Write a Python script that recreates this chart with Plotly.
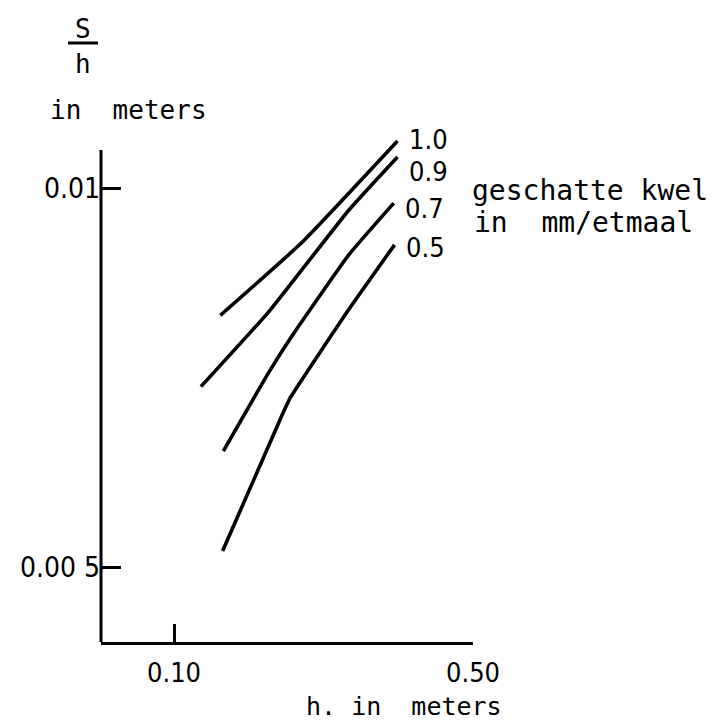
import plotly.graph_objects as go

# h (m) and S/h (m) for each estimated seepage rate (mm/etmaal)
kwel_labels = ["1.0", "0.9", "0.7", "0.5"]
h_10 = [0.162, 0.271, 0.399]
sh_10 = [0.00832, 0.00928, 0.01062]
h_09 = [0.136, 0.227, 0.334, 0.399]
sh_09 = [0.00738, 0.00837, 0.00971, 0.01041]
h_07 = [0.166, 0.227, 0.258, 0.334, 0.394]
sh_07 = [0.00653, 0.00757, 0.00805, 0.00912, 0.00980]
h_05 = [0.165, 0.243, 0.256, 0.334, 0.395]
sh_05 = [0.00521, 0.00697, 0.00724, 0.00840, 0.00925]

x_ticks = [0.10, 0.50]
x_ticktext = ["0.10", "0.50"]
y_ticks = [0.005, 0.01]
y_ticktext = ["0.00 5", "0.01"]

W, H = 716, 724
L, R, T, B = 101, 473, 120, 642   # plot area in pixels
AXIS_TOP = 150                    # visible top of the vertical axis line

series = [(h_10, sh_10), (h_09, sh_09), (h_07, sh_07), (h_05, sh_05)]
label_yshift = [2, -15, -5, -3]

NARROW = "Liberation Sans Narrow, DejaVu Sans Condensed, sans-serif"
MONO = "DejaVu Sans Mono, monospace"

# axis scales: 0.10 at x=174 px, 0.50 at x=473 px; 0.01 at y=188 px, 0.005 at y=567 px
x_per_px = 0.40 / (473 - 174)
y_per_px = 0.005 / (567 - 188)
x_range = [0.10 - (174 - L) * x_per_px, 0.50 + (R - 473) * x_per_px]
y_range = [0.01 - (B - 188) * y_per_px, 0.01 + (188 - T) * y_per_px]


def px(x):
    return (x - L) / (R - L)


def py(y):
    return (B - y) / (B - T)


fig = go.Figure()
for (hx, sy) in series:
    fig.add_trace(go.Scatter(
        x=hx, y=sy, mode="lines",
        line=dict(color="black", width=3.6, shape="spline", smoothing=0.4),
        cliponaxis=False, showlegend=False, hoverinfo="skip"))

annotations = []
for lab, (hx, sy), dy in zip(kwel_labels, series, label_yshift):
    annotations.append(dict(
        x=hx[-1], y=sy[-1], xref="x", yref="y", text=lab, showarrow=False,
        xanchor="left", yanchor="middle", xshift=9, yshift=dy,
        font=dict(family=NARROW, size=27, color="black")))

annotations += [
    dict(x=px(470), y=py(190), xref="paper", yref="paper",
         text="geschatte\u00a0kwel", showarrow=False, xanchor="left",
         yanchor="middle", font=dict(family=MONO, size=28, color="black")),
    dict(x=px(472), y=py(222), xref="paper", yref="paper",
         text="in\u00a0\u00a0mm/etmaal", showarrow=False, xanchor="left",
         yanchor="middle", font=dict(family=MONO, size=28, color="black")),
    dict(x=px(83), y=py(29), xref="paper", yref="paper", text="S",
         showarrow=False, xanchor="center", yanchor="middle",
         font=dict(family=MONO, size=26, color="black")),
    dict(x=px(83), y=py(64), xref="paper", yref="paper", text="h",
         showarrow=False, xanchor="center", yanchor="middle",
         font=dict(family=MONO, size=26, color="black")),
    dict(x=px(128), y=py(110), xref="paper", yref="paper",
         text="in\u00a0\u00a0meters", showarrow=False, xanchor="center",
         yanchor="middle", font=dict(family=MONO, size=26, color="black")),
    dict(x=px(404), y=py(706), xref="paper", yref="paper",
         text="h.\u00a0in\u00a0\u00a0meters", showarrow=False, xanchor="center",
         yanchor="middle", font=dict(family=MONO, size=25, color="black")),
]

shapes = [
    # fraction bar of S/h
    dict(type="line", xref="paper", yref="paper",
         x0=px(68), x1=px(98), y0=py(43), y1=py(43),
         line=dict(color="black", width=3)),
    # vertical axis line
    dict(type="line", xref="paper", yref="paper",
         x0=0, x1=0, y0=0, y1=py(AXIS_TOP),
         line=dict(color="black", width=3)),
]

fig.update_layout(
    width=W, height=H,
    margin=dict(l=L, r=W - R, t=T, b=H - B),
    paper_bgcolor="white", plot_bgcolor="white",
    annotations=annotations, shapes=shapes,
    xaxis=dict(range=x_range, showgrid=False, zeroline=False,
               showline=True, linecolor="black", linewidth=3,
               tickvals=x_ticks, ticktext=x_ticktext, ticks="inside",
               ticklen=18, tickwidth=2.5, tickcolor="black",
               ticklabelstandoff=5,
               tickfont=dict(family=NARROW, size=27, color="black")),
    yaxis=dict(range=y_range, showgrid=False, zeroline=False,
               showline=False,
               tickvals=y_ticks, ticktext=y_ticktext, ticks="inside",
               ticklen=20, tickwidth=2.5, tickcolor="black",
               ticklabelstandoff=0,
               tickfont=dict(family=NARROW, size=28, color="black")),
)

fig.write_html("out.html")
